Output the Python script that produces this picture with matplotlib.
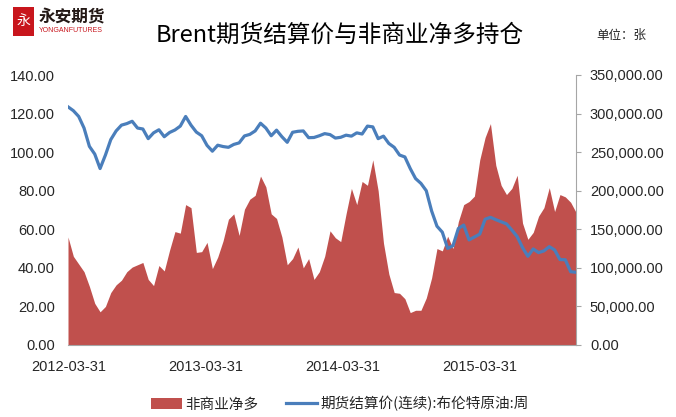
import matplotlib
matplotlib.use('Agg')
import matplotlib.pyplot as plt
import matplotlib.ticker as mticker
from matplotlib.patches import Patch, Rectangle
from matplotlib.lines import Line2D
import pandas as pd

plt.rcParams['font.family'] = ['Liberation Sans', 'Noto Sans CJK SC', 'DejaVu Sans']
CJK = ['Noto Sans CJK SC', 'DejaVu Sans']

# data (roughly every two weeks)
dates = pd.date_range('2012-03-30', '2015-12-11', periods=96)

price = [123.5, 121.5, 118.5, 112.5, 103.0, 99.0, 91.5, 98.5, 106.5, 111.0,
         114.0, 114.8, 116.0, 112.5, 112.0, 107.0, 110.0, 111.6, 108.0, 110.2,
         111.5, 113.5, 118.5, 114.0, 110.4, 108.5, 103.5, 100.5, 103.6, 102.9,
         102.5, 104.0, 104.8, 108.4, 109.2, 111.0, 115.0, 112.5, 108.5, 111.4,
         108.0, 105.1, 110.3, 110.8, 111.0, 107.5, 107.6, 108.5, 109.6, 109.1,
         107.3, 107.7, 108.8, 108.3, 110.0, 109.4, 113.5, 113.1, 107.0, 108.3,
         104.5, 102.5, 98.5, 97.5, 91.5, 86.3, 83.8, 80.0, 69.5, 61.6,
         58.5, 50.1, 51.5, 60.4, 62.2, 54.5, 56.0, 57.5, 65.2, 66.2,
         65.0, 63.9, 62.8, 59.6, 56.2, 50.5, 46.0, 49.8, 47.9, 48.8,
         51.0, 49.3, 44.3, 44.2, 38.0, 37.7]

net_long_k = [140, 115, 105, 95, 76, 54, 43, 50, 68, 78,
              84, 95, 101, 104, 107, 85, 77, 103, 96, 123,
              147, 145, 182, 178, 120, 121, 133, 99, 114, 135,
              163, 170, 142, 176, 189, 194, 219, 205, 170, 164,
              140, 104, 112, 127, 100, 112, 85, 95, 115, 148,
              139, 134, 170, 203, 182, 212, 207, 240, 200, 132,
              92, 68, 67, 60, 42, 45, 45, 61, 87, 125,
              122, 141, 125, 160, 182, 186, 193, 240, 269, 287,
              233, 207, 195, 203, 220, 158, 137, 146, 167, 178,
              204, 173, 195, 192, 185, 172]
net_long = [v * 1000 for v in net_long_k]

xtick_dates = ['2012-03-31', '2013-03-31', '2014-03-31', '2015-03-31']
title = 'Brent期货结算价与非商业净多持仓'
unit = '单位：张'
legend_labels = ['非商业净多', '期货结算价(连续):布伦特原油:周']

red = '#C0504D'
blue = '#4A7EBB'
grey = '#A6A6A6'
txt = '#262626'

W, H = 676, 417
fig = plt.figure(figsize=(W / 100, H / 100), dpi=100)
ax_area = fig.add_axes([68 / W, 72 / H, 508 / W, 270 / H])
ax_price = ax_area.twinx()

ax_area.fill_between(dates, net_long, 0, color=red, lw=0)
ax_price.plot(dates, price, color=blue, lw=2.3, solid_joinstyle='round')

ax_area.set_xlim(dates[0], dates[-1])
ax_area.set_ylim(0, 350000)
ax_price.set_ylim(0, 140)

# swap sides: price on the left, net long on the right
ax_area.yaxis.tick_right()
ax_price.yaxis.tick_left()
ax_area.set_yticks(range(0, 350001, 50000))
ax_price.set_yticks(range(0, 141, 20))
ax_area.yaxis.set_major_formatter(mticker.FuncFormatter(lambda v, p: f'{v:,.2f}'))
ax_price.yaxis.set_major_formatter(mticker.FuncFormatter(lambda v, p: f'{v:.2f}'))

ax_area.set_xticks(pd.to_datetime(xtick_dates))
ax_area.set_xticklabels(xtick_dates)

ax_area.tick_params(axis='x', length=0, pad=11, labelsize=10.5, labelcolor=txt)
ax_area.tick_params(axis='y', direction='out', length=3.5, color=grey,
                    pad=6.5, labelsize=10.5, labelcolor=txt)
ax_price.tick_params(axis='y', length=0, pad=9.4, labelsize=10.5, labelcolor=txt)

for s in ['top', 'left']:
    ax_area.spines[s].set_visible(False)
ax_area.spines['right'].set_color(grey)
ax_area.spines['bottom'].set_color(grey)
for s in ax_price.spines.values():
    s.set_visible(False)

fig.text(340 / W, 1 - 35 / H, title, ha='center', va='center', fontsize=17,
         family=CJK, color='black')
fig.text(621 / W, 1 - 35 / H, unit, ha='center', va='center', fontsize=9,
         family=CJK, color=txt)

# logo
fig.add_artist(Rectangle((13 / W, 1 - 36 / H), 21 / W, 29 / H,
                         transform=fig.transFigure, color='#C8161D', lw=0))
fig.text(23.5 / W, 1 - 21 / H, '永', ha='center', va='center', fontsize=10,
         family=CJK, color='white')
fig.text(39 / W, 1 - 17 / H, '永安期货', ha='left', va='center', fontsize=12,
         family=CJK, weight='bold', color='#231815')
fig.text(39 / W, 1 - 31 / H, 'YONGANFUTURES', ha='left', va='center',
         fontsize=5, color='#C8161D')

handles = [Patch(facecolor=red, edgecolor='none', label=legend_labels[0]),
           Line2D([], [], color=blue, lw=2.3, label=legend_labels[1])]
fig.legend(handles=handles, loc='center', bbox_to_anchor=(340 / W, 13 / H),
           ncol=2, frameon=False, prop={'family': CJK, 'size': 10.5},
           handlelength=2.1, handleheight=0.8, handletextpad=0.25,
           columnspacing=1.9, labelcolor=txt)

fig.savefig('out.png', dpi=100)
